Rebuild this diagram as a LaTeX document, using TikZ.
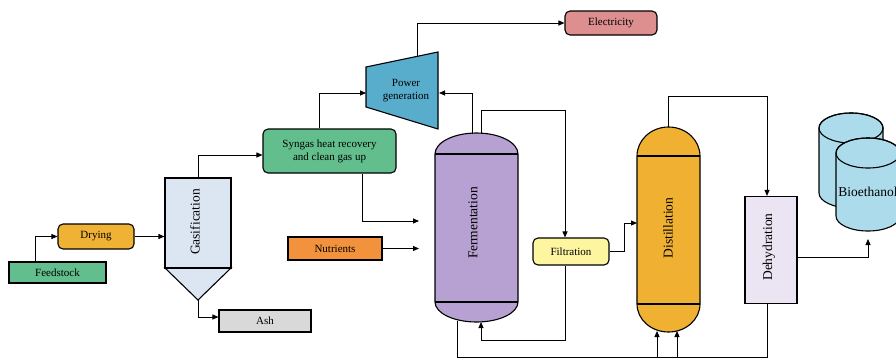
\documentclass[tikz,border=0pt]{standalone}
\usepackage{fontspec}
\setmainfont{Liberation Serif}
\usetikzlibrary{arrows.meta}

\definecolor{feedgreen}{RGB}{98,190,140}
\definecolor{dryorange}{RGB}{240,178,52}
\definecolor{gasblue}{RGB}{220,230,242}
\definecolor{ashgray}{RGB}{217,217,217}
\definecolor{powerblue}{RGB}{88,172,204}
\definecolor{elecpink}{RGB}{221,142,142}
\definecolor{fermpurple}{RGB}{183,160,210}
\definecolor{filtyellow}{RGB}{253,245,160}
\definecolor{nutrorange}{RGB}{242,146,60}
\definecolor{distorange}{RGB}{240,176,50}
\definecolor{dehydlav}{RGB}{235,228,243}
\definecolor{bioblue}{RGB}{172,220,235}

\begin{document}
\begin{tikzpicture}[x=1pt,y=-1pt,>={Triangle[length=6pt,width=5pt]},
  line width=0.9pt,
  font=\fontsize{11}{13}\selectfont,
  unit/.style={draw,line width=1.1pt,inner sep=0pt,align=center},
  rounit/.style={unit,rounded corners=5pt},
  tall/.style={rotate=90,font=\fontsize{13.5}{15}\selectfont}]

\useasboundingbox (0,0) rectangle (896,359);
\clip (0,0) rectangle (896,359);

% feedstock and drying
\node[unit,fill=feedgreen,minimum width=97,minimum height=21] (feed) at (57.5,272.5) {Feedstock};
\node[rounit,fill=dryorange,minimum width=76,minimum height=25] (dry) at (96,236.5) {Drying};

% gasifier with the ash hopper
\filldraw[line width=1.1pt,fill=gasblue] (165,268) -- (231,268) -- (198,300) -- cycle;
\coordinate (gastip) at (198,300);
\node[unit,fill=gasblue,minimum width=66,minimum height=90] (gas) at (198,223) {};
\node[tall] (gaslabel) at (195,222) {Gasification};
\node[unit,fill=ashgray,minimum width=92,minimum height=22] (ash) at (265,321) {Ash};

% gas cleaning and power
\node[rounit,fill=feedgreen,minimum width=133,minimum height=44] (syn) at (329.5,151) {Syngas heat recovery\\and clean gas up};
\filldraw[line width=1.1pt,fill=powerblue] (366,67) -- (438,52) -- (438,129) -- (366,107) -- cycle;
\node[align=center] (power) at (406,91) {Power\\generation};
\coordinate (pin) at (366,93);
\coordinate (pout) at (439,93);
\coordinate (ptop) at (417,56.5);
\node[rounit,fill=elecpink,minimum width=92,minimum height=24] (elec) at (611,23) {Electricity};

\node[unit,fill=nutrorange,minimum width=94,minimum height=23] (nutr) at (335,248.5) {Nutrients};
\coordinate (fermin) at (419,221);

% fermenter
\filldraw[line width=1.1pt,fill=fermpurple] (435,302) -- (435,154)
  arc[start angle=180,end angle=360,x radius=41.5,y radius=21] -- (518,302)
  arc[start angle=0,end angle=180,x radius=41.5,y radius=20] -- cycle;
\draw[line width=1.1pt] (435,154) -- (518,154) (435,302) -- (518,302);
\node[tall] (ferm) at (473,223) {Fermentation};
\coordinate (ferm1) at (472,134);
\coordinate (ferm2) at (481,134);
\coordinate (fermbot) at (481,322);
\coordinate (fermleg) at (457,321);

\node[rounit,fill=filtyellow,minimum width=76,minimum height=27] (filt) at (571,251.5) {Filtration};

% distillation column
\filldraw[line width=1.1pt,fill=distorange] (637,304) -- (637,156)
  arc[start angle=180,end angle=360,x radius=31.5,y radius=29] -- (700,304)
  arc[start angle=0,end angle=180,x radius=31.5,y radius=28] -- cycle;
\draw[line width=1.1pt] (637,156) -- (700,156) (637,304) -- (700,304);
\node[tall] (dist) at (668,228) {Distillation};
\coordinate (distin) at (637,223);
\coordinate (disttop) at (668.5,127);
\coordinate (distfoot1) at (657,331);
\coordinate (distfoot2) at (677,331);
\coordinate (dbot1) at (657,357);
\coordinate (dbot2) at (677,357);

\node[unit,fill=dehydlav,minimum width=52,minimum height=107] (dehyd) at (771,250) {};
\node[tall] (dehydlabel) at (769,247) {Dehydration};

% product tanks
\filldraw[line width=1.1pt,fill=bioblue] (819,128) -- (819,193)
  arc[start angle=180,end angle=0,x radius=32,y radius=15] -- (883,128)
  arc[start angle=0,end angle=-180,x radius=32,y radius=15] -- cycle;
\draw[line width=1.1pt] (851,128) ellipse[x radius=32,y radius=15];
\filldraw[line width=1.1pt,fill=bioblue] (836,153) -- (836,216)
  arc[start angle=180,end angle=0,x radius=32,y radius=15] -- (900,153)
  arc[start angle=0,end angle=-180,x radius=32,y radius=15] -- cycle;
\draw[line width=1.1pt] (868,153) ellipse[x radius=32,y radius=15];
\node[font=\fontsize{13.5}{15}\selectfont] (bio) at (868,192) {Bioethanol};
\coordinate (biofoot) at (868,239);

% flows
\draw[->] ([xshift=-22.5]feed.north) |- (dry.west);
\draw[->] (dry.east) -- (dry.east -| gas.west);
\draw[->] (gastip) |- ([yshift=4]ash.west);
\draw[->] (gas.north) |- ([yshift=-4]syn.west);
\draw[->] ([xshift=-10.5]syn.north) |- (pin);
\draw[->] (ptop) |- (elec.west);
\draw[->] ([xshift=32.5]syn.south) |- (fermin);
\draw[->] (nutr.east) -- (nutr.east -| fermin);
\draw[->] (ferm1) |- (pout);
\draw[->] (ferm2) -- ++(0,-24) -| ([xshift=-6]filt.north);
\draw[->] (filt.east) -- ++(15,0) |- (distin);
\draw[->] ([xshift=-6]filt.south) -- ++(0,75) -| (fermbot);
\draw[->] (fermleg) |- (dbot1) -- (distfoot1);
\draw ([xshift=-4]dehyd.south) |- (dbot1);
\draw[->] (dbot2) -- (distfoot2);
\draw[->] (disttop) -- ++(0,-31) -| ([xshift=-4]dehyd.north);
\draw[->] ([yshift=-7]dehyd.east) -| (biofoot);
\end{tikzpicture}
\end{document}
